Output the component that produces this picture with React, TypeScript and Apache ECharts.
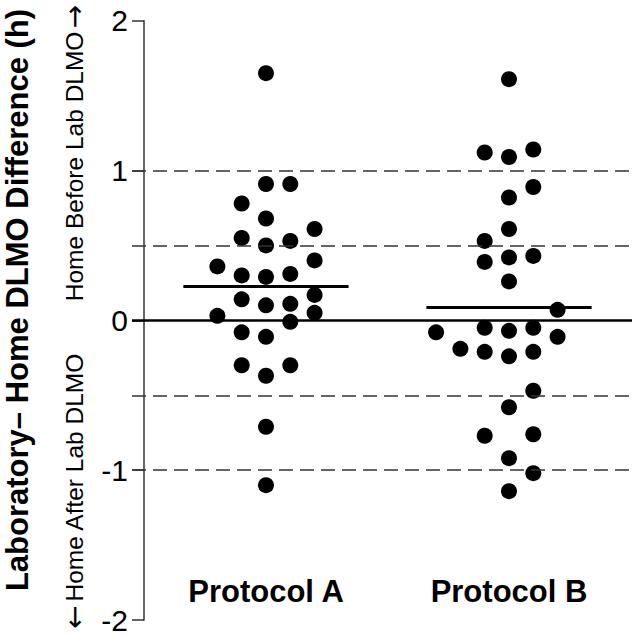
import React, { useEffect, useRef } from "react";
import * as echarts from "echarts";

const categories = ["Protocol A", "Protocol B"];

const protocolAValues = [
  1.65, 0.91, 0.91, 0.78, 0.68, 0.61, 0.55, 0.53, 0.5, 0.4, 0.36, 0.31, 0.3, 0.29,
  0.17, 0.14, 0.11, 0.1, 0.05, 0.03, -0.01, -0.08, -0.11, -0.3, -0.3, -0.37, -0.71, -1.1,
];
const protocolASwarmColumn = [
  0, 0, 1, -1, 0, 2, -1, 1, 0, 2, -2, 1, -1, 0,
  2, -1, 1, 0, 2, -2, 1, -1, 0, -1, 1, 0, 0, 0,
];

const protocolBValues = [
  1.61, 1.14, 1.12, 1.09, 0.89, 0.82, 0.61, 0.53, 0.43, 0.42, 0.39, 0.26, 0.07,
  -0.05, -0.05, -0.07, -0.08, -0.11, -0.19, -0.21, -0.21, -0.24, -0.47, -0.58,
  -0.76, -0.77, -0.92, -1.02, -1.14,
];
const protocolBSwarmColumn = [
  0, 1, -1, 0, 1, 0, 0, -1, 1, 0, -1, 0, 2,
  -1, 1, 0, -3, 2, -2, -1, 1, 0, 1, 0,
  1, -1, 0, 1, 0,
];

const referenceDashed = [1, 0.5, -0.5, -1];
const referenceSolid = [0];
const yTicks = { min: -2, max: 2, interval: 1 };

const yTitle = "Laboratory\u2013 Home DLMO Difference (h)";
const afterLabel = "Home After Lab DLMO";
const beforeLabel = "Home Before Lab DLMO";
const arrowLeft = "\u2190";
const arrowRight = "\u2192";

const FONT = "'Liberation Sans', Arial, Helvetica, sans-serif";
const ARROW_FONT = "'DejaVu Sans', sans-serif";
const SLOT = 0.1;
const MEAN_HALF = 0.34;
const X_MIN = 0.4486;
const X_MAX = 2.5062;

const mean = (a: number[]) => a.reduce((s, v) => s + v, 0) / a.length;

function buildPoints(values: number[], cols: number[], center: number) {
  return values.map((v, i) => [center + cols[i] * SLOT, v]);
}

const sideRich = {
  t: { fontSize: 24.5, fontFamily: FONT, color: "#000" },
  a: { fontSize: 28, fontFamily: ARROW_FONT, color: "#000" },
};

export default function App() {
  const ref = useRef<HTMLDivElement>(null);

  useEffect(() => {
    if (!ref.current) return;
    const chart = echarts.init(ref.current, null, { renderer: "svg" });
    const groups = [
      { name: categories[0], values: protocolAValues, cols: protocolASwarmColumn, center: 1 },
      { name: categories[1], values: protocolBValues, cols: protocolBSwarmColumn, center: 2 },
    ];

    const series: any[] = [
      {
        type: "scatter",
        name: "reference",
        data: [],
        silent: true,
        z: 1,
        markLine: {
          silent: true,
          symbol: "none",
          label: { show: false },
          animation: false,
          data: [
            ...referenceDashed.map((v) => ({
              yAxis: v,
              lineStyle: { type: [14, 7], color: "#333", width: 1.7 },
            })),
            ...referenceSolid.map((v) => ({
              yAxis: v,
              lineStyle: { type: "solid", color: "#000", width: 2.5 },
            })),
          ],
        },
      },
      ...groups.map((g) => ({
        type: "scatter",
        name: g.name,
        data: buildPoints(g.values, g.cols, g.center),
        symbol: "circle",
        symbolSize: 16,
        itemStyle: { color: "#000", opacity: 1 },
        z: 3,
        markLine: {
          silent: true,
          symbol: "none",
          label: { show: false },
          animation: false,
          lineStyle: { type: "solid", color: "#000", width: 3 },
          data: [
            [
              { coord: [g.center - MEAN_HALF, mean(g.values)] },
              { coord: [g.center + MEAN_HALF, mean(g.values)] },
            ],
          ],
        },
      })),
    ];

    chart.setOption({
      animation: false,
      grid: { left: 132, right: 0, top: 20.7, bottom: 10.7, containLabel: false },
      xAxis: [
        { type: "value", min: X_MIN, max: X_MAX, show: false },
        {
          type: "value",
          min: X_MIN,
          max: X_MAX,
          position: "bottom",
          offset: -29,
          axisLine: { show: false },
          axisTick: { show: false },
          splitLine: { show: false },
          axisLabel: {
            customValues: [1, 2],
            formatter: (v: number) => categories[Math.round(v) - 1] ?? "",
            fontSize: 31,
            fontWeight: "bold",
            fontFamily: FONT,
            color: "#000",
            margin: 0,
            verticalAlign: "middle",
          },
        },
      ],
      yAxis: {
        type: "value",
        min: yTicks.min,
        max: yTicks.max,
        interval: yTicks.interval,
        offset: -12,
        axisLine: { show: true, lineStyle: { color: "#333", width: 1.5 } },
        axisTick: { show: true, inside: false, length: 12, lineStyle: { color: "#333", width: 1.5 } },
        splitLine: { show: false },
        axisLabel: { fontSize: 30, fontFamily: FONT, color: "#000", margin: 16 },
      },
      graphic: [
        {
          type: "text",
          x: 17,
          y: 300,
          rotation: Math.PI / 2,
          style: {
            text: yTitle,
            fontSize: 31,
            fontWeight: "bold",
            fontFamily: FONT,
            fill: "#000",
            align: "center",
            verticalAlign: "middle",
          },
        },
        {
          type: "text",
          x: 74,
          y: 491,
          rotation: Math.PI / 2,
          style: {
            text: `{a|${arrowLeft}} {t|${afterLabel}}`,
            rich: sideRich,
            align: "center",
            verticalAlign: "middle",
          },
        },
        {
          type: "text",
          x: 74,
          y: 153,
          rotation: Math.PI / 2,
          style: {
            text: `{t|${beforeLabel}} {a|${arrowRight}}`,
            rich: sideRich,
            align: "center",
            verticalAlign: "middle",
          },
        },
      ],
      series,
    });

    return () => chart.dispose();
  }, []);

  return (
    <div
      ref={ref}
      style={{ position: "fixed", left: 0, top: 0, width: 632, height: 635, background: "#fff" }}
    />
  );
}
